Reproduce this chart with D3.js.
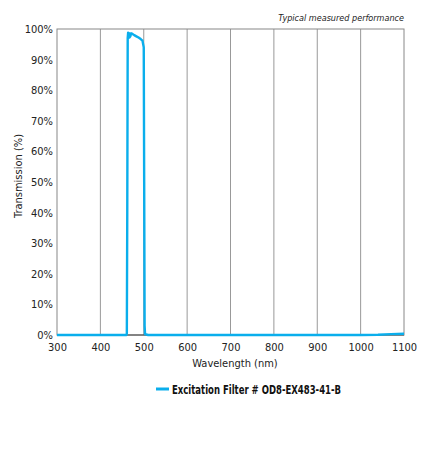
<!DOCTYPE html>
<html>
<head>
<meta charset="utf-8">
<script src="https://cdn.jsdelivr.net/npm/d3@7"></script>
<style>
  body { margin: 0; background: #fff; }
  text { font-family: "DejaVu Sans Condensed", "Liberation Sans Narrow", "Roboto", sans-serif; }
</style>
</head>
<body>
<div id="chart"></div>
<script>
// measured curve
const wavelengths = [300, 400, 455, 460, 461, 462, 463, 464, 466, 467, 469, 471, 474, 478, 483, 488, 493, 497, 500, 501, 502, 503, 510, 600, 800, 1000, 1040, 1070, 1100];
const transmission = [0, 0, 0, 0, 0.5, 40, 97, 98.8, 98.6, 97.2, 97.6, 98.6, 98.4, 98, 97.6, 97.2, 96.7, 96.2, 94, 50, 3, 0.3, 0, 0, 0, 0, 0.1, 0.3, 0.4];
const xTicks = [300, 400, 500, 600, 700, 800, 900, 1000, 1100];
const yTicks = [0, 10, 20, 30, 40, 50, 60, 70, 80, 90, 100];
const seriesName = "Excitation Filter # OD8-EX483-41-B";

const width = 442, height = 450;
const margin = { top: 29, right: 38, bottom: 115, left: 57 };
const font = "DejaVu Sans Condensed, Liberation Sans Narrow, sans-serif";

const svg = d3.select("#chart")
  .append("svg")
  .attr("width", width)
  .attr("height", height);

const x = d3.scaleLinear().domain([300, 1100]).range([margin.left, width - margin.right]);
const y = d3.scaleLinear().domain([0, 100]).range([height - margin.bottom, margin.top]);

// vertical grid lines
svg.selectAll("line.grid")
  .data(xTicks.slice(1, -1))
  .enter()
  .append("line")
  .attr("class", "grid")
  .attr("x1", d => x(d))
  .attr("x2", d => x(d))
  .attr("y1", y(100))
  .attr("y2", y(0))
  .attr("stroke", "#999")
  .attr("stroke-width", 1);

// frame
svg.append("rect")
  .attr("x", x(300))
  .attr("y", y(100))
  .attr("width", x(1100) - x(300))
  .attr("height", y(0) - y(100))
  .attr("fill", "none")
  .attr("stroke", "#888")
  .attr("stroke-width", 1);

svg.append("line")
  .attr("x1", x(300))
  .attr("x2", x(1100))
  .attr("y1", y(0))
  .attr("y2", y(0))
  .attr("stroke", "#444")
  .attr("stroke-width", 1.2);

// x axis
const xAxis = svg.append("g")
  .attr("transform", `translate(0,${y(0)})`)
  .call(d3.axisBottom(x).tickValues(xTicks).tickSize(0).tickPadding(8).tickFormat(d3.format("d")));
xAxis.select(".domain").remove();
xAxis.selectAll("text")
  .attr("font-size", 11)
  .attr("fill", "#222")
  .attr("font-family", font);

// y axis
const yAxis = svg.append("g")
  .attr("transform", `translate(${x(300)},0)`)
  .call(d3.axisLeft(y).tickValues(yTicks).tickSize(0).tickPadding(4).tickFormat(d => d + "%"));
yAxis.select(".domain").remove();
yAxis.selectAll("text")
  .attr("font-size", 11)
  .attr("fill", "#222")
  .attr("font-family", font);

// the curve
const line = d3.line()
  .x((d, i) => x(wavelengths[i]))
  .y(d => y(d));

svg.append("path")
  .datum(transmission)
  .attr("d", line)
  .attr("fill", "none")
  .attr("stroke", "#0aaeec")
  .attr("stroke-width", 2.4)
  .attr("stroke-linejoin", "round");

// titles
svg.append("text")
  .attr("x", 235)
  .attr("y", 367)
  .attr("text-anchor", "middle")
  .attr("font-size", 11)
  .attr("fill", "#222")
  .text("Wavelength (nm)");

svg.append("text")
  .attr("transform", `translate(22,176) rotate(-90)`)
  .attr("text-anchor", "middle")
  .attr("font-size", 11)
  .attr("fill", "#222")
  .text("Transmission (%)");

svg.append("text")
  .attr("x", x(1100))
  .attr("y", 21)
  .attr("text-anchor", "end")
  .attr("font-size", 9)
  .attr("font-style", "italic")
  .attr("fill", "#222")
  .text("Typical measured performance");

// legend
const legend = svg.append("g").attr("transform", "translate(156,389)");
legend.append("line")
  .attr("x1", 0)
  .attr("x2", 13)
  .attr("stroke", "#0aaeec")
  .attr("stroke-width", 3);
legend.append("text")
  .attr("x", 16)
  .attr("y", 4.5)
  .attr("font-size", 12.5)
  .attr("font-weight", "bold")
  .attr("fill", "#111")
  .attr("textLength", 169)
  .attr("lengthAdjust", "spacingAndGlyphs")
  .text(seriesName);
</script>
</body>
</html>
